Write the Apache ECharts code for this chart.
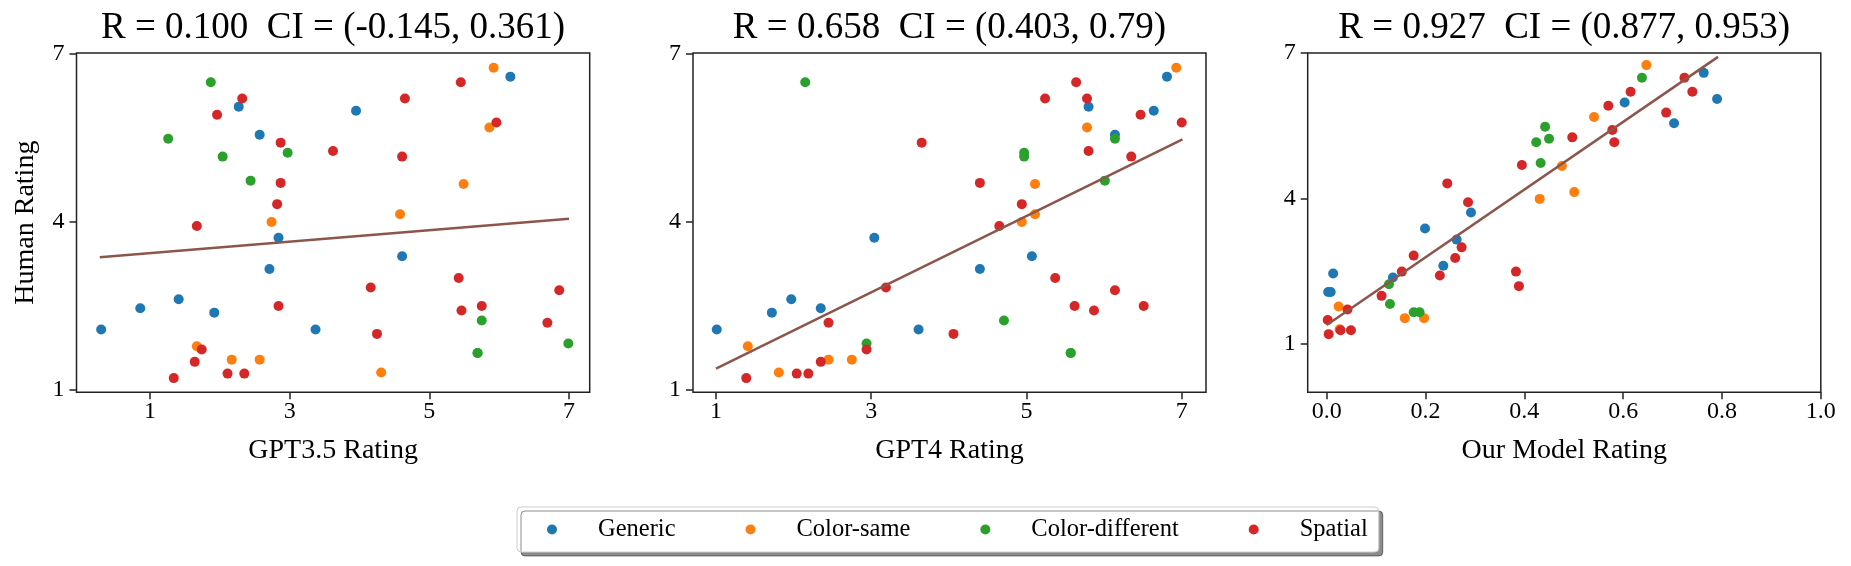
<!DOCTYPE html>
<html><head><meta charset="utf-8">
<script src="https://cdn.jsdelivr.net/npm/echarts@6/dist/echarts.min.js"></script>
<style>html,body{margin:0;padding:0;background:#fff}#c{width:1851px;height:566px}</style>
</head><body><div id="c"></div><script>
// ---- data ----
const categories = ['Generic', 'Color-same', 'Color-different', 'Spatial'];
const colors = ['#1f77b4', '#ff7f0e', '#2ca02c', '#d62728'];

const humanGeneric = [2.07, 2.45, 2.61, 2.37, 6.05, 5.55, 3.15, 3.71, 2.07, 5.98, 3.38, 6.59];
const gpt35Generic = [0.30, 0.86, 1.41, 1.92, 2.27, 2.57, 2.71, 2.84, 3.37, 3.95, 4.61, 6.16];
const gpt4Generic  = [1.01, 2.35, 1.97, 1.72, 5.80, 6.14, 4.40, 3.04, 3.61, 6.64, 5.07, 6.81];
const oursGeneric  = [0.003, 0.013, 0.236, 0.134, 0.790, 0.703, 0.263, 0.292, 0.008, 0.603, 0.199, 0.763];

const humanSame = [1.77, 1.53, 1.53, 3.99, 1.30, 4.13, 4.67, 5.68, 6.75];
const gpt35Same = [1.67, 2.17, 2.57, 2.74, 4.31, 4.58, 5.49, 5.86, 5.92];
const gpt4Same  = [1.41, 2.45, 2.75, 4.94, 1.81, 5.11, 5.11, 5.78, 6.93];
const oursSame  = [0.024, 0.158, 0.197, 0.431, 0.026, 0.501, 0.476, 0.541, 0.647];

const humanDiff = [5.48, 6.49, 5.16, 4.73, 5.23, 1.65, 2.23, 1.82, 1.65];
const gpt35Diff = [1.26, 1.87, 2.04, 2.44, 2.97, 5.69, 5.75, 6.99, 5.69];
const gpt4Diff  = [6.14, 2.15, 4.97, 6.01, 4.97, 5.57, 4.71, 2.94, 5.57];
const oursDiff  = [0.442, 0.638, 0.424, 0.433, 0.450, 0.176, 0.126, 0.128, 0.188];

const humanSpatial = [1.20, 1.49, 1.71, 3.92, 5.91, 6.20, 1.28, 1.28, 5.41, 4.69, 4.31, 2.49, 5.26, 2.82, 1.99, 5.16, 6.20, 2.99, 2.41, 6.49, 2.49, 5.77, 2.19, 2.77];
const gpt35Spatial = [1.34, 1.64, 1.74, 1.67, 1.96, 2.32, 2.11, 2.35, 2.87, 2.87, 2.82, 2.84, 3.62, 4.16, 4.25, 4.61, 4.65, 5.42, 5.46, 5.45, 5.75, 5.96, 6.69, 6.86];
const gpt4Spatial  = [1.39, 2.35, 2.94, 4.65, 6.47, 5.24, 2.04, 2.19, 3.65, 4.40, 4.94, 5.62, 5.80, 3.19, 4.06, 6.35, 5.78, 5.37, 5.87, 5.64, 6.51, 7.00, 2.45, 6.14];
const oursSpatial  = [0.004, 0.002, 0.042, 0.286, 0.570, 0.615, 0.028, 0.049, 0.578, 0.395, 0.244, 0.152, 0.497, 0.176, 0.111, 0.582, 0.740, 0.273, 0.229, 0.724, 0.383, 0.687, 0.389, 0.260];

// regression lines (x, y endpoints)
const fitGpt35 = [[0.28, 3.36], [7.00, 4.05]];
const fitGpt4  = [[1.00, 1.37], [7.01, 5.47]];
const fitOurs  = [[0.00, 1.39], [0.792, 6.92]];

const titles = ['R = 0.100  CI = (-0.145, 0.361)', 'R = 0.658  CI = (0.403, 0.79)', 'R = 0.927  CI = (0.877, 0.953)'];
const xNames = ['GPT3.5 Rating', 'GPT4 Rating', 'Our Model Rating'];
const yName = 'Human Rating';
const xTicks = [[1, 3, 5, 7], [1, 3, 5, 7], [0, 0.2, 0.4, 0.6, 0.8, 1.0]];
const yTicks = [1, 4, 7];

// ---- chart ----
const FONT = 'Liberation Serif';
const humans = [humanGeneric, humanSame, humanDiff, humanSpatial];
const modelX = [
  [gpt35Generic, gpt35Same, gpt35Diff, gpt35Spatial],
  [gpt4Generic, gpt4Same, gpt4Diff, gpt4Spatial],
  [oursGeneric, oursSame, oursDiff, oursSpatial]
];
const fits = [fitGpt35, fitGpt4, fitOurs];

const grids = [
  {left: 76.5, top: 53, width: 513.2, height: 339.3},
  {left: 693, top: 53, width: 513, height: 339.3},
  {left: 1307.7, top: 53, width: 513.1, height: 339.3}
];
const xRanges = [[-0.053, 7.296], [0.704, 7.313], [-0.0385, 1.0]];
const yRanges = [[0.946, 7.0125], [0.946, 7.0125], [0, 7]];

const axisColor = '#222';
const option = {
  animation: false,
  backgroundColor: '#fff',
  title: titles.map((t, i) => ({
    text: t,
    left: grids[i].left + grids[i].width / 2,
    top: 9.5,
    textAlign: 'center',
    padding: 0,
    textStyle: {fontFamily: FONT, fontSize: 37, fontWeight: 'normal', color: '#000'}
  })),
  legend: {
    data: categories,
    left: 517, top: 507,
    icon: 'circle', itemWidth: 10, itemHeight: 10, itemGap: 70,
    padding: [10, 11, 10, 30],
    backgroundColor: '#fff', borderColor: '#cccccc', borderWidth: 1, borderRadius: 4,
    shadowColor: 'rgba(0,0,0,0.45)', shadowOffsetX: 4, shadowOffsetY: 4, shadowBlur: 0,
    textStyle: {fontFamily: FONT, fontSize: 24.5, color: '#000', padding: [0, 0, 0, 36]}
  },
  grid: grids.map(g => Object.assign({
    show: true, borderColor: axisColor, borderWidth: 1.5, backgroundColor: 'transparent',
    containLabel: false, outerBoundsMode: 'none'
  }, g)),
  xAxis: grids.map((g, i) => ({
    type: 'value', gridIndex: i, min: xRanges[i][0], max: xRanges[i][1],
    name: xNames[i], nameLocation: 'middle', nameGap: 44,
    nameTextStyle: {fontFamily: FONT, fontSize: 28, color: '#000'},
    axisLine: {show: false, onZero: false}, splitLine: {show: false},
    axisTick: {show: true, length: 7, customValues: xTicks[i], lineStyle: {color: axisColor, width: 1.5}},
    axisLabel: {customValues: xTicks[i], margin: 7, fontFamily: FONT, fontSize: 24, color: '#000',
      formatter: v => (i === 2 ? Number(v).toFixed(1) : String(v))}
  })),
  yAxis: grids.map((g, i) => ({
    type: 'value', gridIndex: i, min: yRanges[i][0], max: yRanges[i][1],
    name: i === 0 ? yName : '', nameLocation: 'middle', nameGap: 36.5,
    nameTextStyle: {fontFamily: FONT, fontSize: 28, color: '#000'},
    axisLine: {show: false, onZero: false}, splitLine: {show: false},
    axisTick: {show: true, length: 7, customValues: yTicks, lineStyle: {color: axisColor, width: 1.5}},
    axisLabel: {customValues: yTicks, margin: 12, fontFamily: FONT, fontSize: 24, color: '#000',
      formatter: v => String(v)}
  })),
  series: []
};

for (let p = 0; p < 3; p++) {
  for (let c = 0; c < categories.length; c++) {
    option.series.push({
      type: 'scatter', name: categories[c], xAxisIndex: p, yAxisIndex: p,
      symbol: 'circle', symbolSize: 10,
      itemStyle: {color: colors[c], opacity: 1},
      data: humans[c].map((h, k) => [modelX[p][c][k], h]),
      z: 2 + c
    });
  }
  option.series.push({
    type: 'line', name: 'fit' + p, xAxisIndex: p, yAxisIndex: p,
    showSymbol: false, symbol: 'none',
    lineStyle: {color: '#8c564b', width: 2.5},
    data: fits[p], z: 10, silent: true
  });
}

const chart = echarts.init(document.getElementById('c'), null, {renderer: 'canvas'});
chart.setOption(option);
</script></body></html>
